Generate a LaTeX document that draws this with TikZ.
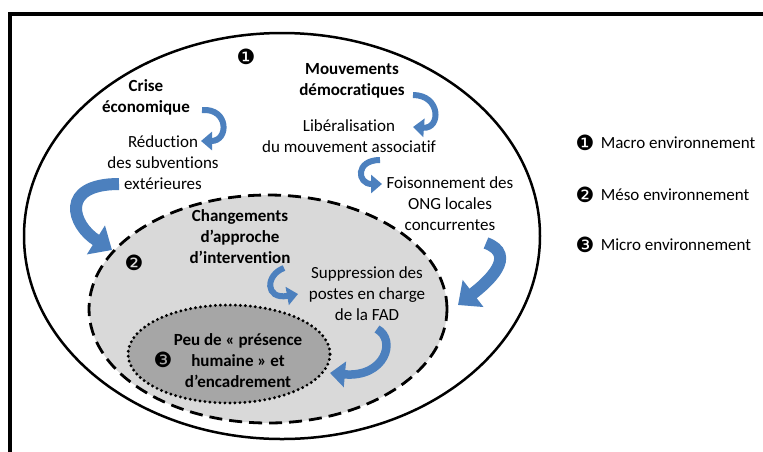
\documentclass[tikz,border=0pt]{standalone}
\usepackage{fontspec}
\setmainfont{Carlito}[Ligatures={NoCommon,NoContextual}]
\newfontfamily\dingfont{DejaVu Sans}
\usepackage{xcolor}
\usetikzlibrary{positioning, arrows.meta}
\definecolor{arrowblue}{RGB}{76,128,190}
\definecolor{mesogray}{RGB}{217,217,217}
\definecolor{microgray}{RGB}{166,166,166}

\begin{document}
\begin{tikzpicture}[
  x=1pt, y=-1pt,
  lbl/.style={align=center, inner sep=0pt, font=\fontsize{17}{21}\selectfont},
  hd/.style={align=center, inner sep=0pt, font=\fontsize{17}{21}\selectfont\bfseries},
  num/.style={inner sep=0pt, font=\dingfont\fontsize{21}{21}\selectfont},
  legend/.style={inner sep=0pt, font=\fontsize{17}{21}\selectfont},
  arr/.style={arrowblue, line width=6pt, -{Triangle[width=18pt, length=11pt]}},
  midarr/.style={arrowblue, line width=8.5pt, -{Triangle[width=25pt, length=15pt]}},
  bigarr/.style={arrowblue, line width=12pt, -{Triangle[width=33pt, length=19pt]}}
]
\useasboundingbox (0,0) rectangle (763,451);
\clip (0,0) rectangle (763,451);
\fill[white] (0,0) rectangle (763,451);
\draw[line width=4pt] (9.5,470) |- (780,13.5);

% environment layers
\draw[line width=2.5pt, fill=white] (282,236) ellipse [x radius=258pt, y radius=203pt];
\draw[line width=2.8pt, fill=mesogray, dash pattern=on 13pt off 7pt] (268,309) ellipse [x radius=179pt, y radius=114pt];
\draw[line width=3.2pt, fill=microgray, line cap=round, dash pattern=on 0pt off 5pt] (229,354) ellipse [x radius=101pt, y radius=49pt];

\node[num] (n1) at (246,57) {❶};
\node[hd] (eco) at (146,97) {Crise\\économique};
\node[lbl] (reduc) at (163,163) {Réduction\\des subventions\\extérieures};
\node[hd] (democ) at (352,81) {Mouvements\\démocratiques};
\node[lbl] (liber) at (349,136) {Libéralisation\\du mouvement associatif};
\node[lbl] (foison) at (450,204) {Foisonnement des\\ONG locales\\concurrentes};
\node[hd] (chang) at (240,237) {Changements\\d’approche\\d’intervention};
\node[num] (n2) at (134,263) {❷};
\node[lbl] (suppr) at (367,294) {Suppression des\\postes en charge\\de la FAD};
\node[hd] (peu) at (238,361) {Peu de « présence\\humaine » et\\d’encadrement};
\node[num] (n3) at (163,360) {❸};

% legend
\node[num] (k1) at (585,143) {❶};
\node[legend, right=6pt of k1] (macro) {Macro environnement};
\node[num] (k2) at (585,195) {❷};
\node[legend, right=6pt of k2] (meso) {Méso environnement};
\node[num] (k3) at (585,245) {❸};
\node[legend, right=6pt of k3] (micro) {Micro environnement};

% curved arrows
\coordinate (a1s) at (202,110); \coordinate (a1e) at (201,141);
\coordinate (a2s) at (413,95);  \coordinate (a2e) at (413,127);
\coordinate (a3s) at (380,160); \coordinate (a3e) at (382,184);
\coordinate (a4s) at (119,184); \coordinate (a4e) at (112,250);
\coordinate (a5s) at (486,243); \coordinate (a5e) at (458,305);
\coordinate (a6s) at (284,268); \coordinate (a6e) at (298,294);
\coordinate (a7s) at (377,329); \coordinate (a7e) at (330,373);
\draw[arr] (a1s) .. controls +(27,-2) and +(28,0) .. (a1e);
\draw[arr] (a2s) .. controls +(28,0) and +(28,2) .. (a2e);
\draw[arr] (a3s) .. controls +(-25,0) and +(-25,0) .. (a3e);
\draw[bigarr] (a4s) .. controls +(-60,0) and +(-40,-25) .. (a4e);
\draw[bigarr] (a5s) .. controls +(32,12) and +(30,-23) .. (a5e);
\draw[arr] (a6s) .. controls +(-19,7) and +(-33,6) .. (a6e);
\draw[midarr] (a7s) .. controls +(20,11) and +(55,5) .. (a7e);
\end{tikzpicture}
\end{document}
